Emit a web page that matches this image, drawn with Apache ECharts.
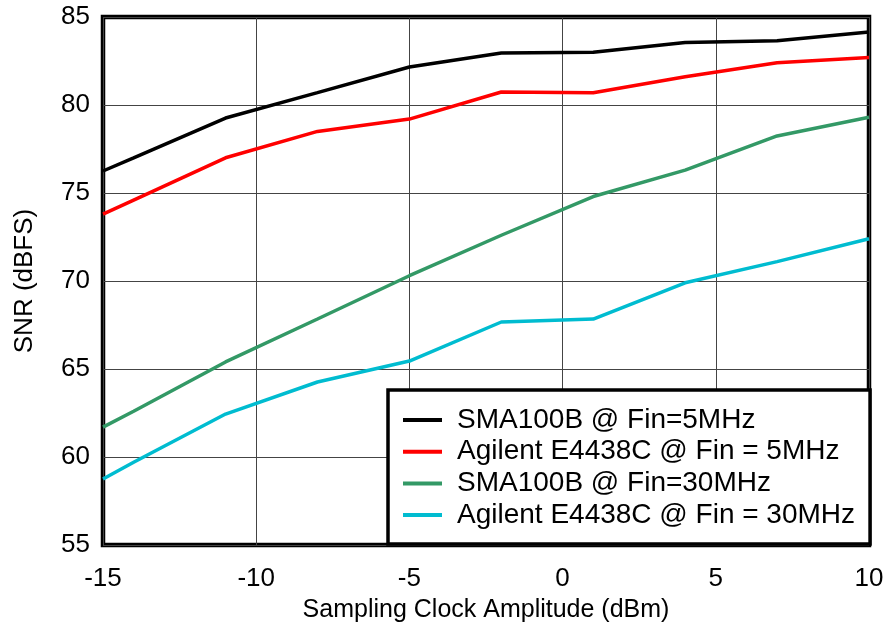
<!DOCTYPE html>
<html>
<head>
<meta charset="utf-8">
<script src="https://cdn.jsdelivr.net/npm/echarts@6/dist/echarts.min.js"></script>
<style>
html,body{margin:0;padding:0;background:#fff;}
#chart{width:889px;height:630px;}
</style>
</head>
<body>
<div id="chart"></div>
<script>
const xValues = [-15, -14, -11, -8, -5, -2, 1, 4, 7, 10];
const seriesNames = [
  'SMA100B @ Fin=5MHz',
  'Agilent E4438C @ Fin = 5MHz',
  'SMA100B @ Fin=30MHz',
  'Agilent E4438C @ Fin = 30MHz'
];
const sma5 = [76.25, 77.0, 79.26, 80.7, 82.16, 82.95, 83.0, 83.55, 83.65, 84.15];
const agi5 = [73.8, 74.6, 77.0, 78.5, 79.2, 80.74, 80.7, 81.6, 82.4, 82.7];
const sma30 = [61.7, 62.6, 65.4, 67.84, 70.3, 72.6, 74.8, 76.3, 78.24, 79.3];
const agi30 = [58.75, 59.7, 62.44, 64.26, 65.45, 67.67, 67.84, 69.9, 71.1, 72.4];
const colors = ['#000000', '#ff0000', '#339966', '#00bcd0'];

const allData = [sma5, agi5, sma30, agi30];
const font = 'Liberation Sans, Arial, sans-serif';

const chart = echarts.init(document.getElementById('chart'));
chart.setOption({
  animation: false,
  backgroundColor: '#fff',
  grid: {
    left: 103, right: 20, top: 17, bottom: 85,
    outerBoundsMode: 'none', containLabel: false,
    show: true, borderColor: '#000', borderWidth: 4.5, backgroundColor: 'transparent'
  },
  xAxis: {
    type: 'value', min: -15, max: 10, interval: 5,
    name: 'Sampling Clock Amplitude (dBm)', nameLocation: 'middle', nameGap: 53,
    nameTextStyle: {fontFamily: font, fontSize: 25, color: '#000'},
    axisLine: {show: false}, axisTick: {show: false},
    axisLabel: {fontFamily: font, fontSize: 26, color: '#000', margin: 21},
    splitLine: {show: true, lineStyle: {color: '#444', width: 1}}
  },
  yAxis: {
    type: 'value', min: 55, max: 85, interval: 5,
    name: 'SNR (dBFS)', nameLocation: 'middle', nameGap: 65,
    nameTextStyle: {fontFamily: font, fontSize: 26, color: '#000'},
    axisLine: {show: false}, axisTick: {show: false},
    axisLabel: {fontFamily: font, fontSize: 26, color: '#000', margin: 13},
    splitLine: {show: true, lineStyle: {color: '#444', width: 1}}
  },
  legend: {
    orient: 'vertical', left: 388, top: 390,
    backgroundColor: '#fff', borderColor: '#000', borderWidth: 3.5,
    padding: [16, 15, 15, 15], itemGap: 3.7,
    icon: 'rect', itemWidth: 39, itemHeight: 4,
    textStyle: {fontFamily: font, fontSize: 28, color: '#000', lineHeight: 28, padding: [0, 0, 0, 10], width: 398},
    data: seriesNames
  },
  series: seriesNames.map((n, i) => ({
    name: n, type: 'line', showSymbol: false, symbol: 'none',
    lineStyle: {color: colors[i], width: 3.5},
    itemStyle: {color: colors[i]},
    data: xValues.map((x, j) => [x, allData[i][j]])
  }))
});
</script>
</body>
</html>
